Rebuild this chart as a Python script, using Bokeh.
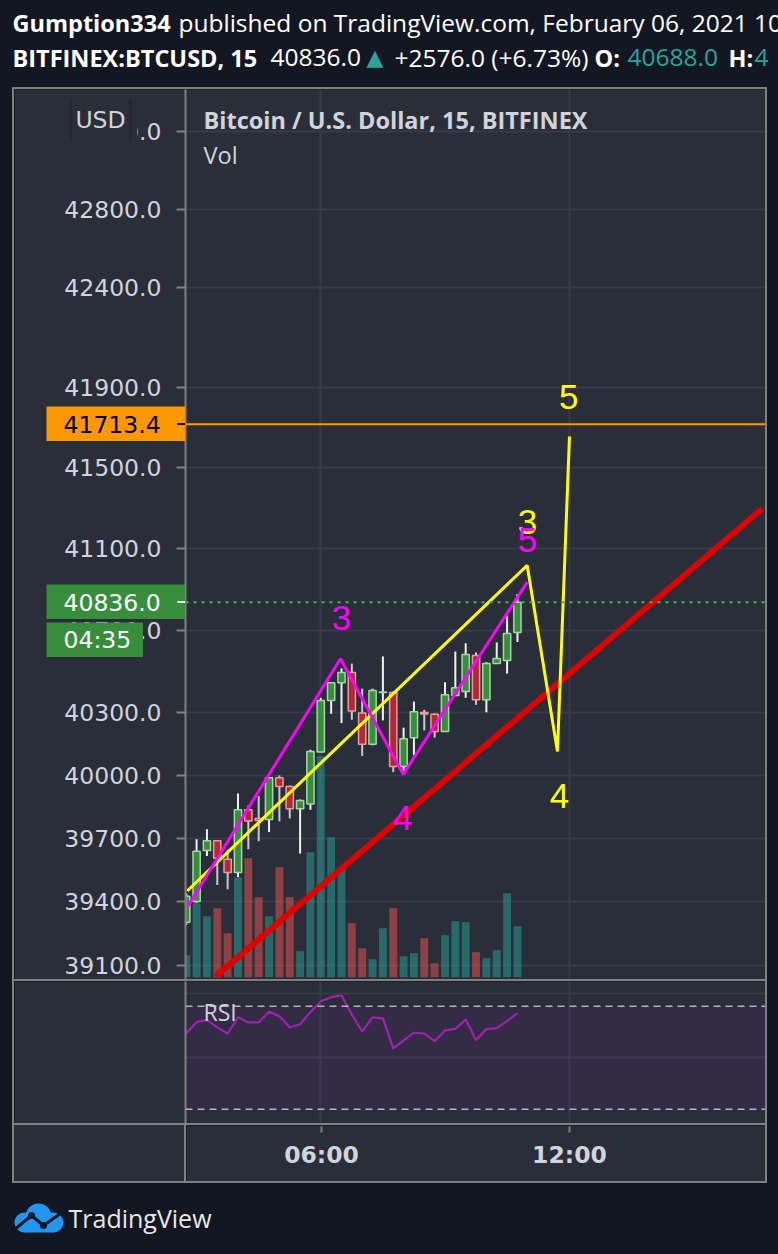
import math
from bokeh.plotting import figure
from bokeh.models import (Range1d, FixedTicker, PrintfTickFormatter, Span, BoxAnnotation,
                          Label, Grid, Spacer, LinearScale)
from bokeh.layouts import column, row
from bokeh.core.properties import value
from bokeh.embed import file_html
from bokeh.resources import INLINE

# ---------------- data ----------------
TIMES = ["02:45", "03:00", "03:15", "03:30", "03:45", "04:00", "04:15", "04:30", "04:45",
         "05:00", "05:15", "05:30", "05:45", "06:00", "06:15", "06:30", "06:45", "07:00",
         "07:15", "07:30", "07:45", "08:00", "08:15", "08:30", "08:45", "09:00", "09:15",
         "09:30", "09:45", "10:00", "10:15", "10:30", "10:45"]
OPEN = [39303, 39401, 39642, 39688, 39600, 39537, 39835, 39794, 39789, 39988, 39946, 39840,
        39863, 40111, 40359, 40445, 40494, 40298, 40148, 40397, 40398, 40042, 40180, 40301,
        40292, 40210, 40383, 40402, 40577, 40362, 40538, 40552, 40688]
HIGH = [39440, 39695, 39742, 39690, 39643, 39913, 39855, 39900, 39990, 39999, 39951, 39884,
        40122, 40372, 40447, 40514, 40537, 40416, 40416, 40572, 40402, 40228, 40354, 40314,
        40297, 40447, 40596, 40636, 40592, 40544, 40640, 40771, 40876]
LOW = [39290, 39395, 39615, 39479, 39458, 39516, 39647, 39686, 39729, 39780, 39794, 39627,
       39835, 40110, 40295, 40250, 40266, 40092, 40143, 40263, 40015, 40015, 40095, 40215,
       40180, 40210, 40383, 40372, 40338, 40302, 40537, 40489, 40642]
CLOSE = [39425, 39638, 39688, 39605, 39537, 39835, 39782, 39784, 39988, 39946, 39840, 39879,
         40113, 40359, 40445, 40494, 40308, 40148, 40407, 40400, 40042, 40175, 40305, 40294,
         40210, 40387, 40420, 40582, 40362, 40538, 40562, 40683, 40836]
VOLUME = [22, 74, 61, 69, 44, 100, 119, 80, 61, 110, 80, 26, 125, 221, 140, 109, 54, 29, 18,
          49, 69, 21, 24, 39, 14, 42, 56, 55, 25, 19, 27, 84, 51]
RSI = [59.5, 63.8, 64.7, 61.8, 59.3, 65.7, 63.7, 63.7, 67.9, 66.1, 61.8, 63.0, 67.7, 71.9,
       73.5, 74.2, 66.8, 60.2, 65.7, 65.3, 53.6, 56.7, 59.7, 59.4, 56.4, 60.6, 61.2, 64.8,
       56.9, 61.1, 61.5, 64.2, 67.3]

PRICE_TICKS = [39100, 39400, 39700, 40000, 40300, 40700, 41100, 41500, 41900, 42400, 42800, 43200]
TIME_TICKS = [6, 12]
TIME_LABELS = ["06:00", "12:00"]

LAST_PRICE = 40836.0
TARGET_PRICE = 41713.4
COUNTDOWN = "04:35"

# drawings (time in hours, price)
MAGENTA_T = [2.773, 6.476, 7.990, 10.986]
MAGENTA_P = [39374, 40561, 40004, 40934]
YELLOW_T = [2.773, 10.986, 11.717, 12.007]
YELLOW_P = [39450, 41016, 40114, 41653]
RED_T = [3.457, 16.662]
RED_P = [39049, 41295]
MAG_LBL_T = [6.50, 10.99, 7.98]
MAG_LBL_P = [40761, 41139, 39798]
MAG_LBL = ["3", "5", "4"]
YEL_LBL_T = [10.99, 11.99, 11.766]
YEL_LBL_P = [41229, 41849, 39903]
YEL_LBL = ["3", "5", "4"]

# ---------------- styling ----------------
DARK = "#131722"
PANEL = "#2a2e39"
GRID = "#363a4a"
FRAME = "#808080"
TXT = "#d1d4dc"
UP_FILL, UP_LINE = "#388e3c", "#a5d6a7"
DN_FILL, DN_LINE = "#b22833", "#ef9a9a"

def hours(t):
    h, m = t.split(":")
    return int(h) + int(m) / 60.0

X = [hours(t) for t in TIMES]
up = [c >= o for o, c in zip(OPEN, CLOSE)]

X_RANGE = Range1d(2.732, 16.742)
Y_LO, Y_HI = 39035, 43417
MAIN_TOP, MAIN_H = 89, 890          # page position of the price pane frame


def spacer(w, h, color):
    return Spacer(width=w, height=h, styles={"background-color": color})

# ---------------- header ----------------
hdr = figure(width=778, height=87, x_range=Range1d(0, 778), y_range=Range1d(87, 0),
             output_backend="svg", toolbar_location=None, min_border=0,
             x_axis_location=None, y_axis_location=None,
             background_fill_color=DARK, border_fill_color=DARK, outline_line_color=None)
hdr.grid.visible = False
hfont = value("Open Sans")
HB, HN = "23.5px", "24.5px"
hdr.text(x=[12], y=[22], text=["Gumption334"], text_font=hfont, text_font_size=HB,
         text_font_style="bold", text_color="#ffffff", text_baseline="middle")
hdr.text(x=[178], y=[22], text=["published on TradingView.com, February 06, 2021 10"],
         text_font=hfont, text_font_size=HN, text_color="#ffffff", text_baseline="middle")
hdr.text(x=[12, 594, 728], y=[57, 57, 57], text=["BITFINEX:BTCUSD, 15", "O:", "H:"],
         text_font=hfont, text_font_size=HB, text_font_style="bold",
         text_color="#ffffff", text_baseline="middle")
hdr.text(x=[270, 394], y=[57, 57], text=["40836.0", "+2576.0 (+6.73%)"],
         text_font=hfont, text_font_size=HN, text_color="#ffffff", text_baseline="middle")
hdr.text(x=[627, 754], y=[57, 57], text=["40688.0", "4"],
         text_font=hfont, text_font_size=HN, text_color="#26a69a", text_baseline="middle")
hdr.text(x=[366], y=[57], text=["\u25B2"], text_font=value("DejaVu Sans"), text_font_size="22px",
         text_color="#26a69a", text_baseline="middle")

# ---------------- main price pane ----------------
main = figure(width=751, height=MAIN_H, x_range=X_RANGE, y_range=Range1d(Y_LO, Y_HI),
              y_axis_type="log", output_backend="svg", toolbar_location=None,
              x_axis_location=None, min_border_left=171, min_border_right=0,
              min_border_top=0, min_border_bottom=0,
              background_fill_color=PANEL, border_fill_color=PANEL, outline_line_color=None)
main.xgrid.visible = False
main.add_layout(Grid(dimension=0, ticker=FixedTicker(ticks=TIME_TICKS), grid_line_color=GRID,
                     grid_line_width=2))
ya = main.yaxis[0]
ya.ticker = FixedTicker(ticks=PRICE_TICKS)
ya.formatter = PrintfTickFormatter(format="%.1f")
ya.axis_line_color = FRAME
ya.axis_line_width = 2
ya.major_tick_out = 9
ya.major_tick_in = 0
ya.major_tick_line_color = FRAME
ya.major_tick_line_width = 2
ya.minor_tick_line_color = None
ya.major_label_text_font = "DejaVu Sans"
ya.major_label_text_font_size = "23.5px"
ya.major_label_text_color = TXT
ya.major_label_standoff = 15
main.ygrid.grid_line_color = GRID
main.ygrid.grid_line_width = 2

# volume (linear overlay scale)
main.extra_y_ranges = {"vol": Range1d(-2.3, 887.7)}
main.extra_y_scales = {"vol": LinearScale()}
vol_colors = ["#26a69a" if u else "#ef5350" for u in up]
main.vbar(x=X, top=VOLUME, bottom=0, width=0.19, y_range_name="vol",
          fill_color=vol_colors, fill_alpha=0.5, line_color=None)

# candles
wick_colors = ["#f0f0f0" if u else "#c8c8d0" for u in up]
main.segment(x0=X, y0=HIGH, x1=X, y1=LOW, line_color=wick_colors, line_width=2)
body_fill = [UP_FILL if u else DN_FILL for u in up]
body_line = [UP_LINE if u else DN_LINE for u in up]
main.vbar(x=X, top=[max(o, c) for o, c in zip(OPEN, CLOSE)],
          bottom=[min(o, c) for o, c in zip(OPEN, CLOSE)], width=0.175,
          fill_color=body_fill, line_color=body_line, line_width=1.5)

# price lines
main.add_layout(Span(location=LAST_PRICE, dimension="width", line_color="#4caf50",
                     line_dash="3 5", line_width=2))
main.add_layout(Span(location=TARGET_PRICE, dimension="width", line_color="#ff9800",
                     line_width=2))

# drawings
main.line(RED_T, RED_P, line_color="#e00000", line_width=6)
main.line(YELLOW_T, YELLOW_P, line_color="#ffff00", line_width=3)
main.line(MAGENTA_T, MAGENTA_P, line_color="#ff00ff", line_width=3)
wfont = value("Liberation Sans")
main.text(x=YEL_LBL_T, y=YEL_LBL_P, text=YEL_LBL, text_font=wfont, text_font_size="35px",
          text_color="#ffff00", text_align="center", text_baseline="middle")
main.text(x=MAG_LBL_T, y=MAG_LBL_P, text=MAG_LBL, text_font=wfont, text_font_size="35px",
          text_color="#ff00ff", text_align="center", text_baseline="middle")

# legend texts
main.add_layout(Label(x=3.167, y=43257, text="Bitcoin / U.S. Dollar, 15, BITFINEX",
                      text_font="Open Sans", text_font_style="bold", text_font_size="23.5px",
                      text_color=TXT, text_baseline="middle"))
main.add_layout(Label(x=3.167, y=43076, text="Vol", text_font="Open Sans",
                      text_font_size="23.5px", text_color=TXT, text_baseline="middle"))

# ---------------- RSI pane ----------------
rsi = figure(width=751, height=142, x_range=X_RANGE, y_range=Range1d(24.45, 79.6),
             output_backend="svg", toolbar_location=None, x_axis_location=None,
             min_border_left=171, min_border_right=0, min_border_top=0, min_border_bottom=0,
             background_fill_color=PANEL, border_fill_color=PANEL, outline_line_color=None)
rsi.xgrid.visible = False
rsi.add_layout(Grid(dimension=0, ticker=FixedTicker(ticks=TIME_TICKS), grid_line_color=GRID,
                    grid_line_width=2))
rsi.ygrid.ticker = FixedTicker(ticks=[50, 75])
rsi.ygrid.grid_line_color = GRID
rsi.ygrid.grid_line_width = 2
ra = rsi.yaxis[0]
ra.ticker = FixedTicker(ticks=[])
ra.axis_line_color = FRAME
ra.axis_line_width = 2
ra.major_tick_line_color = None
ra.minor_tick_line_color = None
rsi.add_layout(BoxAnnotation(bottom=30, top=70, fill_color="#7b1fa2", fill_alpha=0.13,
                             line_color=None, level="underlay"))
for lvl in (30, 70):
    rsi.add_layout(Span(location=lvl, dimension="width", line_color="#b2b5be",
                        line_dash="7 5", line_width=1.5))
rsi.line(X, RSI, line_color="#a020b0", line_width=2.2)
rsi.add_layout(Label(x=3.167, y=67.6, text="RSI", text_font="Open Sans", text_font_size="23px",
                     text_color=TXT, text_baseline="middle"))

# ---------------- time axis ----------------
tax = figure(width=579, height=56, x_range=X_RANGE, y_range=Range1d(0, 1),
             output_backend="svg", toolbar_location=None, y_axis_location=None,
             min_border_left=0, min_border_right=0, min_border_top=0, min_border_bottom=55,
             background_fill_color=PANEL, border_fill_color=PANEL, outline_line_color=None)
tax.grid.visible = False
xa = tax.xaxis[0]
xa.ticker = FixedTicker(ticks=TIME_TICKS)
xa.major_label_overrides = {t: l for t, l in zip(TIME_TICKS, TIME_LABELS)}
xa.axis_line_color = None
xa.major_tick_out = 6
xa.major_tick_in = 0
xa.major_tick_line_color = FRAME
xa.major_tick_line_width = 2
xa.minor_tick_line_color = None
xa.major_label_text_font = "DejaVu Sans"
xa.major_label_text_font_style = "bold"
xa.major_label_text_font_size = "23.5px"
xa.major_label_text_color = TXT
xa.major_label_standoff = 8

tax_row = row(spacer(170, 56, PANEL), spacer(2, 56, FRAME), tax, spacing=0)

panel = column(spacer(751, 2, FRAME), main, spacer(751, 2, FRAME), rsi,
               spacer(751, 2, FRAME), tax_row, spacer(751, 2, FRAME), spacing=0)
body = row(spacer(12, 1096, DARK), spacer(2, 1096, FRAME), panel, spacer(2, 1096, FRAME),
           spacer(11, 1096, DARK), spacing=0)

# ---------------- footer ----------------
ftr = figure(width=778, height=71, x_range=Range1d(0, 778), y_range=Range1d(71, 0),
             output_backend="svg", toolbar_location=None, min_border=0,
             x_axis_location=None, y_axis_location=None,
             background_fill_color=DARK, border_fill_color=DARK, outline_line_color=None)
ftr.grid.visible = False
ftr.circle(x=[38, 24, 53], y=[33, 39, 39], radius=[13, 10, 10], fill_color="#2196f3",
           line_color=None)
ftr.quad(left=[24], right=[53], top=[36], bottom=[49], fill_color="#2196f3", line_color=None)
ftr.line([14, 31, 43, 60], [46, 32, 42, 30], line_color=DARK, line_width=3)
ftr.circle(x=[31, 43], y=[32, 42], radius=3.5, fill_color=DARK, line_color=None)
ftr.text(x=[68], y=[34], text=["TradingView"], text_font=value("Open Sans"),
         text_font_size="25px", text_color="#e8e8e8", text_baseline="middle")

# ---------------- price-scale badges (overlaid on the price axis) ----------------
def price_to_page_y(price):
    frac = (math.log(Y_HI) - math.log(price)) / (math.log(Y_HI) - math.log(Y_LO))
    return MAIN_TOP + frac * MAIN_H


def badge(left, top, w, h, text, bg, color, tick_color=None, pad=17):
    f = figure(width=w, height=h, x_range=Range1d(0, w), y_range=Range1d(0, h),
               output_backend="svg", toolbar_location=None, min_border=0,
               x_axis_location=None, y_axis_location=None,
               background_fill_color=bg, border_fill_color=bg, outline_line_color=None,
               styles={"position": "absolute", "left": f"{left:.0f}px", "top": f"{top:.0f}px"})
    f.grid.visible = False
    f.text(x=[pad], y=[h / 2], text=[text], text_font=value("DejaVu Sans"),
           text_font_size="23.5px", text_color=color, text_baseline="middle")
    if tick_color:
        f.segment(x0=[w - 8], y0=[h / 2], x1=[w], y1=[h / 2], line_color=tick_color,
                  line_width=2)
    return f

BH = 35
b_target = badge(46, price_to_page_y(TARGET_PRICE) - BH / 2, 139, BH, f"{TARGET_PRICE:.1f}",
                 "#ff9800", "#000000", tick_color="#000000")
last_top = price_to_page_y(LAST_PRICE) - BH / 2
b_last = badge(46, last_top, 139, BH, f"{LAST_PRICE:.1f}", "#388e3c", "#ffffff",
               tick_color="#ffffff")
b_cd = badge(46, last_top + BH + 3, 97, BH, COUNTDOWN, "#388e3c", "#ffffff")

usd = figure(width=74, height=41, x_range=Range1d(0, 74), y_range=Range1d(0, 41),
             output_backend="svg", toolbar_location=None, min_border=0,
             x_axis_location=None, y_axis_location=None,
             background_fill_color=PANEL, border_fill_color=PANEL, outline_line_color=None,
             styles={"position": "absolute", "left": "63px", "top": "99px"})
usd.grid.visible = False
usd.add_layout(Label(x=37, y=20.5, text="USD", text_font="DejaVu Sans", text_font_size="23.5px",
                     text_color=TXT, text_align="center", text_baseline="middle",
                     background_fill_color=PANEL, border_line_color="#22262f",
                     border_line_width=2, border_radius=7, padding=(5, 10)))

p = column(hdr, body, ftr, b_target, b_last, b_cd, usd, spacing=0,
           styles={"background-color": DARK})

open("out.html", "w").write(file_html(p, INLINE))
